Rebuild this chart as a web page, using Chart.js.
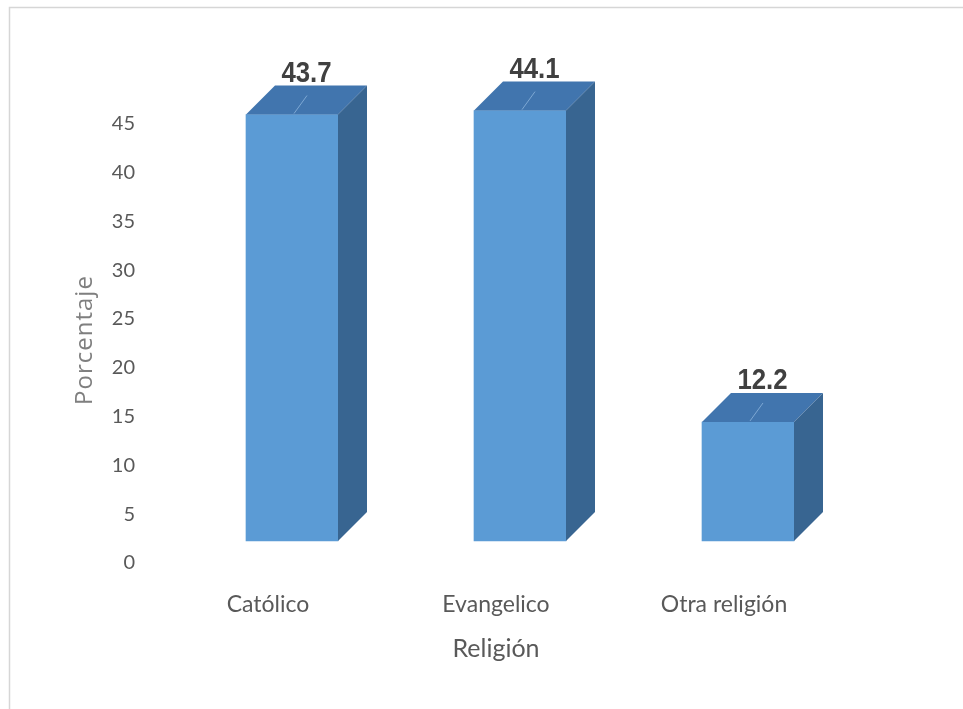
<!DOCTYPE html>
<html>
<head>
<meta charset="utf-8">
<script src="https://cdn.jsdelivr.net/npm/chart.js@4/dist/chart.umd.min.js"></script>
<style>
  html, body { margin: 0; padding: 0; background: #fff; }
  #wrap { width: 963px; height: 709px; }
</style>
</head>
<body>
<div id="wrap"><canvas id="religion-chart" width="963" height="709"></canvas></div>
<script>
var categories = ['Católico', 'Evangelico', 'Otra religión'];
var percentages = [43.7, 44.1, 12.2];
var yTicks = [0, 5, 10, 15, 20, 25, 30, 35, 40, 45];

// depth of the fake 3D box
var DEPTH_X = 29, DEPTH_Y = 29;
// bars sit a bit right of their labels, like the original
var BAR_SHIFT = 24 / 228;
// front faces stand a bit above the axis zero
var BASE_LIFT = 2.25;

var frame = {
  id: 'frame',
  beforeDraw: function(chart) {
    var c = chart.ctx;
    c.save();
    c.strokeStyle = '#d6d6d6';
    c.lineWidth = 1.5;
    c.beginPath();
    c.moveTo(963, 7.5);
    c.lineTo(9.5, 7.5);
    c.lineTo(9.5, 709);
    c.stroke();
    // y axis title, slightly spaced out like the original
    c.fillStyle = '#7f7f7f';
    c.font = '24px "Open Sans", Lato, sans-serif';
    c.letterSpacing = '1px';
    c.textAlign = 'center';
    c.textBaseline = 'middle';
    c.translate(85, 340);
    c.rotate(-Math.PI / 2);
    c.fillText('Porcentaje', 0, 0);
    c.restore();
  }
};

var box3d = {
  id: 'box3d',
  afterDatasetsDraw: function(chart) {
    var c = chart.ctx;
    var meta = chart.getDatasetMeta(0);
    c.save();
    meta.data.forEach(function(bar, i) {
      var p = bar.getProps(['x', 'y', 'base', 'width'], true);
      var l = p.x - p.width / 2, r = p.x + p.width / 2;
      // top face
      c.fillStyle = '#4175ae';
      c.beginPath();
      c.moveTo(l, p.y);
      c.lineTo(l + DEPTH_X, p.y - DEPTH_Y);
      c.lineTo(r + DEPTH_X, p.y - DEPTH_Y);
      c.lineTo(r, p.y);
      c.closePath();
      c.fill();
      // little highlight on top
      c.strokeStyle = 'rgba(140,180,220,0.8)';
      c.lineWidth = 1;
      c.beginPath();
      c.moveTo(p.x + 2, p.y - 1);
      c.lineTo(p.x + 15, p.y - 19);
      c.stroke();
      // side face
      c.fillStyle = '#386591';
      c.beginPath();
      c.moveTo(r, p.y);
      c.lineTo(r + DEPTH_X, p.y - DEPTH_Y);
      c.lineTo(r + DEPTH_X, p.base - DEPTH_Y);
      c.lineTo(r, p.base);
      c.closePath();
      c.fill();
      // value label, squeezed to look like a narrow bold face
      c.save();
      c.fillStyle = '#404040';
      c.font = 'bold 30px "Liberation Sans Narrow", "Liberation Sans", Arial, sans-serif';
      c.textAlign = 'center';
      c.textBaseline = 'alphabetic';
      c.translate(p.x + DEPTH_X / 2, p.y - DEPTH_Y - 4);
      c.scale(0.86, 1);
      c.fillText(percentages[i].toFixed(1), 0, 0);
      c.restore();
    });
    c.restore();
  }
};

new Chart(document.getElementById('religion-chart').getContext('2d'), {
  type: 'bar',
  data: {
    labels: categories,
    datasets: [{
      label: 'Porcentaje',
      data: percentages.map(function(v, i) { return {x: i, y: v}; }),
      xAxisID: 'xb',
      yAxisID: 'y',
      backgroundColor: '#5b9bd5',
      borderWidth: 0,
      barThickness: 92
    }]
  },
  options: {
    responsive: false,
    animation: false,
    layout: { padding: { left: 0, right: 125, top: 75, bottom: 0 } },
    plugins: {
      legend: { display: false },
      tooltip: { enabled: false }
    },
    scales: {
      x: {
        type: 'category',
        position: 'bottom',
        offset: true,
        grid: { display: false, drawTicks: false },
        border: { display: false },
        ticks: {
          padding: 28,
          color: '#595959',
          font: { family: 'Lato, "Open Sans", sans-serif', size: 23 }
        },
        title: {
          display: true,
          text: 'Religión',
          color: '#595959',
          padding: { top: 0, bottom: 45 },
          font: { family: 'Lato, "Open Sans", sans-serif', size: 25 }
        },
        afterFit: function(axis) { axis.height = 146; }
      },
      xb: {
        type: 'linear',
        display: false,
        offset: false,
        grace: 0,
        min: -0.5 - BAR_SHIFT,
        max: 2.5 - BAR_SHIFT
      },
      y: {
        type: 'linear',
        display: false,
        min: -BASE_LIFT,
        max: 50 - BASE_LIFT
      },
      y2: {
        type: 'linear',
        position: 'left',
        min: 0,
        max: 50,
        grid: { display: false, drawTicks: false },
        border: { display: false },
        afterBuildTicks: function(axis) {
          axis.ticks = yTicks.map(function(v) { return {value: v}; });
        },
        ticks: {
          padding: 19,
          color: '#595959',
          font: { family: 'Lato, "Open Sans", sans-serif', size: 20 }
        },
        afterFit: function(axis) { axis.width = 154; }
      }
    }
  },
  plugins: [frame, box3d]
});
</script>
</body>
</html>
